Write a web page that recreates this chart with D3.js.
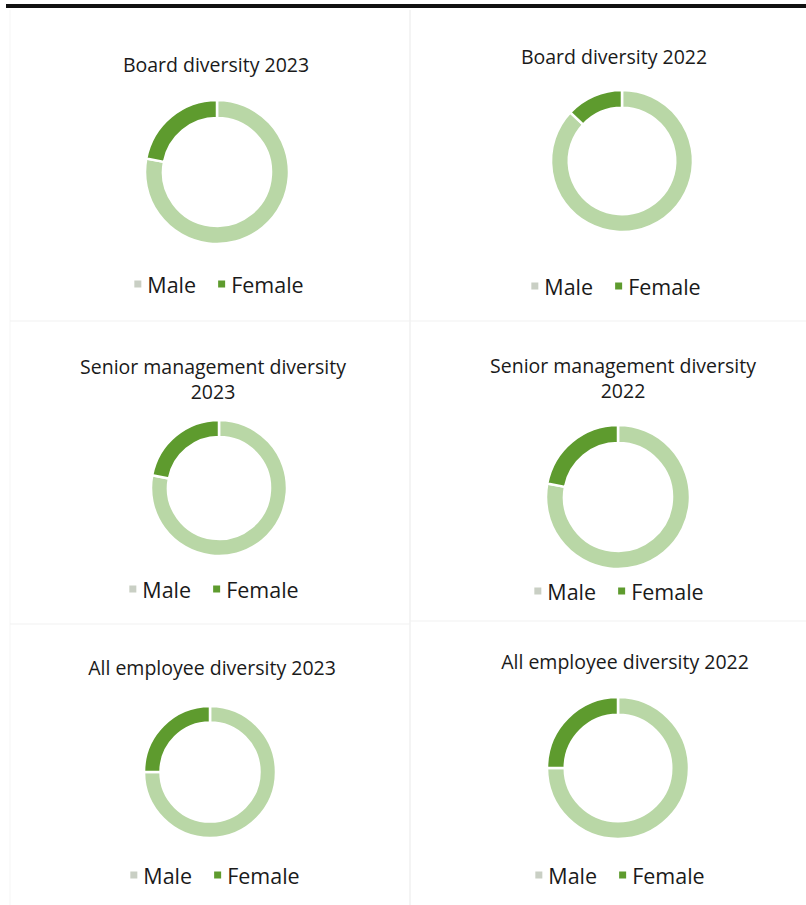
<!DOCTYPE html>
<html>
<head>
<meta charset="utf-8">
<script src="https://cdn.jsdelivr.net/npm/d3@7"></script>
<style>
  html, body { margin: 0; padding: 0; background: #ffffff; }
  svg { display: block; }
  text { font-family: "Open Sans", "Noto Sans", sans-serif; fill: #1a1a1a; }
</style>
</head>
<body>
<svg id="chart" width="806" height="905"></svg>
<script>
// ---- data ----
const chartTitles = [
  ["Board diversity 2023"],
  ["Board diversity 2022"],
  ["Senior management diversity", "2023"],
  ["Senior management diversity", "2022"],
  ["All employee diversity 2023"],
  ["All employee diversity 2022"]
];
const categories = ["Male", "Female"];
const maleShare   = [78, 87, 78, 78, 75, 75];
const femaleShare = [22, 13, 22, 22, 25, 25];

// ---- layout (positions/styles, not data) ----
const panels = [
  {cx: 217, cy: 172, r: 72, tx: 216, ty: 64,  ly: 284, lx: 219},
  {cx: 622, cy: 161, r: 71, tx: 614, ty: 56,  ly: 286, lx: 616},
  {cx: 219, cy: 488, r: 68, tx: 213, ty: 366, ly: 589, lx: 214},
  {cx: 618, cy: 497, r: 72, tx: 623, ty: 365, ly: 591, lx: 619},
  {cx: 210, cy: 772, r: 66, tx: 212, ty: 667, ly: 875, lx: 215},
  {cx: 618, cy: 768, r: 71, tx: 625, ty: 661, ly: 875, lx: 620}
];
const color = d3.scaleOrdinal().domain(categories).range(["#b9d7a6", "#5e9b2e"]);
const legendMarker = d3.scaleOrdinal().domain(categories).range(["#c9cfc4", "#5e9b2e"]);

const svg = d3.select("#chart");

// page frame: heavy top rule and faint panel borders
svg.append("rect").attr("x", 6).attr("y", 4).attr("width", 800).attr("height", 4).attr("fill", "#111");
const faint = "#f1f1f1";
svg.append("line").attr("x1", 410).attr("x2", 410).attr("y1", 10).attr("y2", 905).attr("stroke", faint).attr("stroke-width", 1.5);
svg.append("line").attr("x1", 10).attr("x2", 10).attr("y1", 10).attr("y2", 905).attr("stroke", "#f5f5f5").attr("stroke-width", 1);
svg.append("line").attr("x1", 10).attr("x2", 806).attr("y1", 321).attr("y2", 321).attr("stroke", faint).attr("stroke-width", 1);
svg.append("line").attr("x1", 10).attr("x2", 410).attr("y1", 624).attr("y2", 624).attr("stroke", faint).attr("stroke-width", 1);
svg.append("line").attr("x1", 410).attr("x2", 806).attr("y1", 621).attr("y2", 621).attr("stroke", faint).attr("stroke-width", 1);

const pie = d3.pie().sort(null).value(d => d.value);

panels.forEach((p, i) => {
  const data = [
    {key: categories[0], value: maleShare[i]},
    {key: categories[1], value: femaleShare[i]}
  ];
  const arc = d3.arc().innerRadius(p.r * 0.75).outerRadius(p.r);
  const g = svg.append("g").attr("transform", `translate(${p.cx},${p.cy})`);
  g.selectAll("path").data(pie(data)).join("path")
    .attr("d", arc)
    .attr("fill", d => color(d.data.key))
    .attr("stroke", "#ffffff")
    .attr("stroke-width", 2.5);

  // title
  const lines = chartTitles[i];
  lines.forEach((ln, j) => {
    svg.append("text")
      .attr("x", p.tx).attr("y", p.ty + j * 25)
      .attr("text-anchor", "middle")
      .attr("dominant-baseline", "central")
      .attr("font-size", 19.5)
      .text(ln);
  });

  // legend
  const lg = svg.append("g");
  const items = lg.selectAll("g").data(categories).join("g");
  items.append("rect").attr("class", "mk")
    .attr("width", 7).attr("height", 7).attr("y", p.ly - 3.5)
    .attr("fill", d => legendMarker(d));
  items.append("text").attr("class", "lt")
    .attr("y", p.ly).attr("dominant-baseline", "central")
    .attr("font-size", 21.5)
    .text(d => d);
  let x = 0;
  const widths = [];
  items.each(function() {
    widths.push(d3.select(this).select("text").node().getComputedTextLength());
  });
  const total = 7 + 6 + widths[0] + 22 + 7 + 6 + widths[1];
  x = p.lx - total / 2;
  items.each(function(d, k) {
    const s = d3.select(this);
    s.select("rect").attr("x", x);
    s.select("text").attr("x", x + 13);
    x += 13 + widths[k] + 22;
  });
});
</script>
</body>
</html>
